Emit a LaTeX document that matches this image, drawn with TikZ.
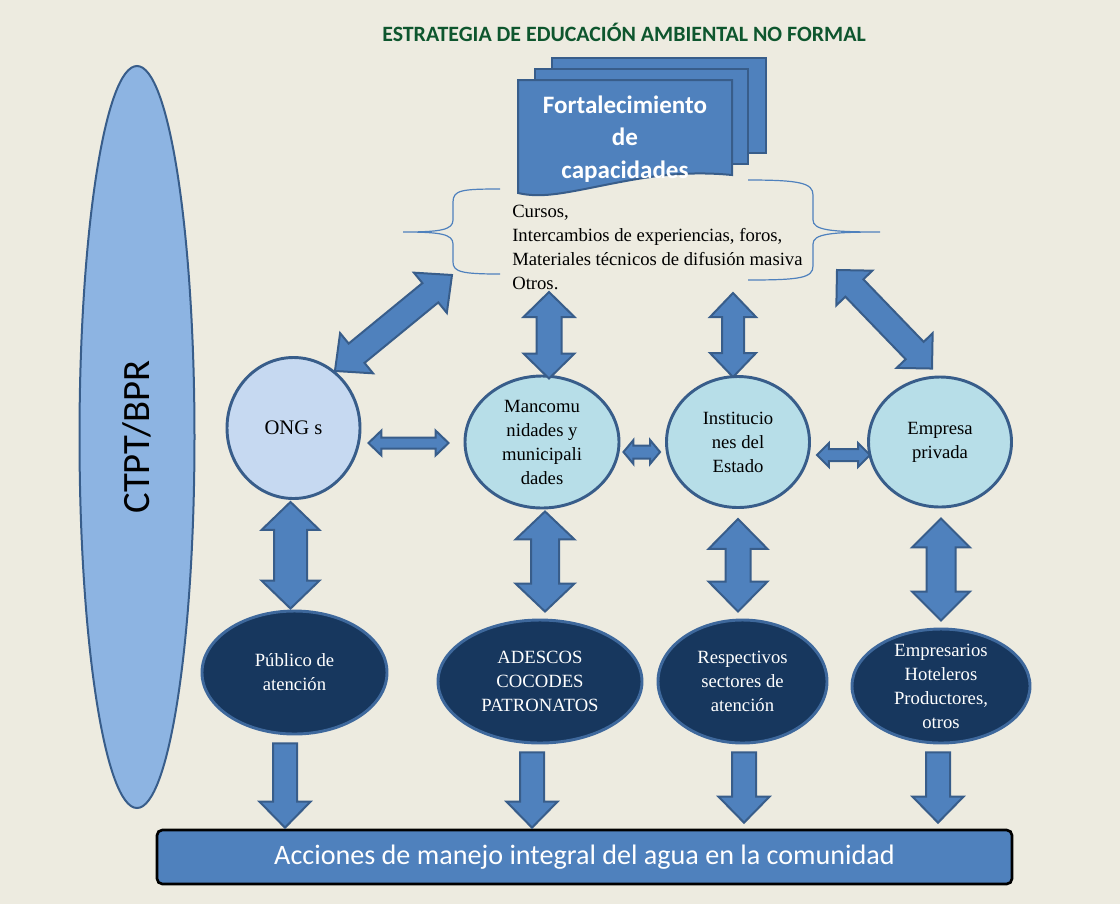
\documentclass[tikz,border=0pt]{standalone}
\usepackage{fontspec}
\setmainfont{Liberation Serif}
\newfontfamily\calib{Carlito}
\usepackage{tikz}
\usetikzlibrary{calc,shapes.geometric}
\definecolor{bgcream}{RGB}{237,235,224}
\definecolor{docblue}{RGB}{79,129,189}
\definecolor{edgeblue}{RGB}{56,93,138}
\definecolor{rimblue}{RGB}{62,104,156}
\definecolor{ctptfill}{RGB}{141,180,226}
\definecolor{ongfill}{RGB}{198,217,241}
\definecolor{cyanfill}{RGB}{183,222,232}
\definecolor{navy}{RGB}{23,55,94}
\definecolor{titlegreen}{RGB}{14,86,46}
\newcommand{\dblarrow}[5]{%
	\path (#1) coordinate (ba) (#2) coordinate (bb);
	\path ($(ba)!#5*0.75pt!(bb)$) coordinate (ha) ($(bb)!#5*0.75pt!(ba)$) coordinate (hb);
	\draw[blockarrow] (ba) -- ($(ha)!#4*0.75pt!90:(bb)$) -- ($(ha)!#3*0.75pt!90:(bb)$)
		-- ($(hb)!#3*0.75pt!-90:(ba)$) -- ($(hb)!#4*0.75pt!-90:(ba)$) -- (bb)
		-- ($(hb)!#4*0.75pt!90:(ba)$) -- ($(hb)!#3*0.75pt!90:(ba)$)
		-- ($(ha)!#3*0.75pt!-90:(bb)$) -- ($(ha)!#4*0.75pt!-90:(bb)$) -- cycle;
}
\newcommand{\onearrow}[5]{%
	\path (#1) coordinate (ba) (#2) coordinate (bb);
	\path ($(bb)!#5*0.75pt!(ba)$) coordinate (hb);
	\draw[blockarrow] ($(ba)!#3*0.75pt!90:(bb)$) -- ($(hb)!#3*0.75pt!-90:(ba)$)
		-- ($(hb)!#4*0.75pt!-90:(ba)$) -- (bb) -- ($(hb)!#4*0.75pt!90:(ba)$)
		-- ($(hb)!#3*0.75pt!90:(ba)$) -- ($(ba)!#3*0.75pt!-90:(bb)$) -- cycle;
}

\begin{document}
\begin{tikzpicture}[x=0.75pt,y=-0.75pt,
		blockarrow/.style={fill=docblue,draw=edgeblue,line width=1.5pt,line join=miter},
		docbox/.style={fill=docblue,draw=edgeblue,line width=1.5pt},
		lightnode/.style={ellipse,draw=edgeblue,line width=2.2pt,inner sep=0pt,align=center,font=\fontsize{14}{18}\selectfont},
		darknode/.style={ellipse,fill=navy,draw=rimblue,line width=2.2pt,inner sep=0pt,text=white,align=center,font=\fontsize{14}{18}\selectfont}]
			\fill[bgcream] (0,0) rectangle (1120,904);
			\useasboundingbox (0,0) rectangle (1120,904);
			% title
			\node[font=\calib\bfseries\fontsize{16.4}{19}\selectfont,text=titlegreen] (title) at (624,32) {ESTRATEGIA DE EDUCACIÓN AMBIENTAL NO FORMAL};
			% documents
			\draw[docbox] (552,58) rectangle (766,153);
			\draw[docbox] (535,69) rectangle (748,164);
			\draw[docbox] (518,80) -- (732,80) -- (732,175) .. controls (680,170) and (640,178) .. (600,186)
				.. controls (560,194) and (540,198) .. (518,193) -- cycle;
			\node[text=white,font=\calib\bfseries\fontsize{18.8}{24.4}\selectfont,align=center] (fort) at (625,139) {Fortalecimiento\\de\\capacidades};
			% braces
			\draw[docblue,line width=0.9pt] (500,189) .. controls (462,189) and (453,190) .. (453,202) -- (453,220)
				.. controls (453,230) and (440,232) .. (403,232) .. controls (440,232) and (453,234) .. (453,244)
				-- (453,262) .. controls (453,272) and (462,274) .. (500,274);
			\draw[docblue,line width=0.9pt] (748,180) .. controls (800,180) and (813,183) .. (813,195) -- (813,220)
				.. controls (813,230) and (830,232) .. (880,232) .. controls (830,232) and (813,234) .. (813,244)
				-- (813,266) .. controls (813,278) and (800,280) .. (748,280);
			\node[anchor=west,inner sep=0pt,align=left,font=\fontsize{14}{18}\selectfont] (txt) at (512,247)
				{Cursos,\\Intercambios de experiencias, foros,\\Materiales técnicos de difusión masiva\\Otros.};
			% side ellipse
			\node[ellipse,rotate=90,fill=ctptfill,draw=edgeblue,line width=1.5pt,minimum width=556.5pt,minimum height=86.25pt,
				font=\calib\fontsize{29}{34}\selectfont] (ctpt) at (137,437) {CTPT/BPR};
			% actors
			\node[lightnode,fill=ongfill,minimum width=99.75pt,minimum height=105.75pt,font=\fontsize{15.5}{18}\selectfont] (ong) at (293.5,428) {ONG s};
			\node[lightnode,fill=cyanfill,minimum width=115.5pt,minimum height=99pt] (manc) at (542,442) {Mancomu\\nidades y\\municipali\\dades};
			\node[lightnode,fill=cyanfill,minimum width=107.25pt,minimum height=98.25pt] (inst) at (738,442) {Institucio\\nes del\\Estado};
			\node[lightnode,fill=cyanfill,minimum width=107.25pt,minimum height=97.5pt] (emp) at (940,442) {Empresa\\privada};
			% groups
			\node[darknode,minimum width=138.75pt,minimum height=92.25pt] (pub) at (294.5,672.5) {Público de\\atención};
			\node[darknode,minimum width=153pt,minimum height=92.25pt] (ades) at (540,681.5) {ADESCOS\\COCODES\\PATRONATOS};
			\node[darknode,minimum width=126.75pt,minimum height=92.25pt] (resp) at (742.5,681.5) {Respectivos\\sectores de\\atención};
			\node[darknode,minimum width=133.5pt,minimum height=85.5pt,
				label={[text=white,align=center,font=\fontsize{14}{18}\selectfont]center:{Empresarios\\Hoteleros\\Productores,\\otros}}] (empr) at (941,686) {};
			% result
			\node[rectangle,rounded corners=4pt,fill=docblue,draw=black,line width=2pt,minimum width=641.25pt,minimum height=40.5pt,
				text=white,font=\calib\fontsize{21.1}{24}\selectfont] (bar) at (584.5,857) {Acciones de manejo integral del agua en la comunidad};
			% arrows to the activities
			\coordinate (gtop) at (452,275);
			\coordinate (etop) at (549,292);
			\coordinate (ftop) at (733,293);
			\coordinate (htop) at (837,270);
			\dblarrow{ong.54}{gtop}{12.5}{26}{28}
			\dblarrow{etop}{$(manc.north)+(7,4)$}{12.5}{25.5}{25}
			\dblarrow{ftop}{$(inst.north)+(-5,2)$}{11}{23}{24}
			\dblarrow{htop}{$(emp.north)+(-8,-7)$}{12.5}{25}{25}
			% arrows between actors
			\dblarrow{$(ong.east |- manc.west)+(7,1)$}{$(manc.west)+(-15,1)$}{5.5}{12.5}{13}
			\dblarrow{$(manc.east)+(3,10)$}{$(inst.west)+(-5,10)$}{6.5}{12}{10}
			\dblarrow{$(inst.east)+(6,13)$}{$(emp.west)+(3,13)$}{6}{12}{12}
			% arrows to the groups
			\dblarrow{$(ong.south)+(-3,2)$}{$(pub.north)+(-4,-1)$}{16.5}{29}{28}
			\dblarrow{$(manc.south)+(3,2)$}{$(ades.north)+(5,-7)$}{14}{29.5}{28}
			\dblarrow{$(inst.south)+(0,10)$}{$(resp.north)+(-4.5,-7)$}{12.5}{29.5}{30}
			\dblarrow{$(emp.south)+(1,10)$}{$(empr.north)+(0,-7)$}{14.5}{29}{29}
			% arrows to the result
			\foreach \n/\dx/\dy in {pub/-9.5/-1,ades/-8/-1,resp/1.5/-6,empr/-3/-6} {
				\onearrow{$(\n.south)+(\dx,8)$}{$(\n.south |- bar.north)+(\dx,\dy)$}{12}{25.5}{26}
			}
		\end{tikzpicture}
\end{document}
